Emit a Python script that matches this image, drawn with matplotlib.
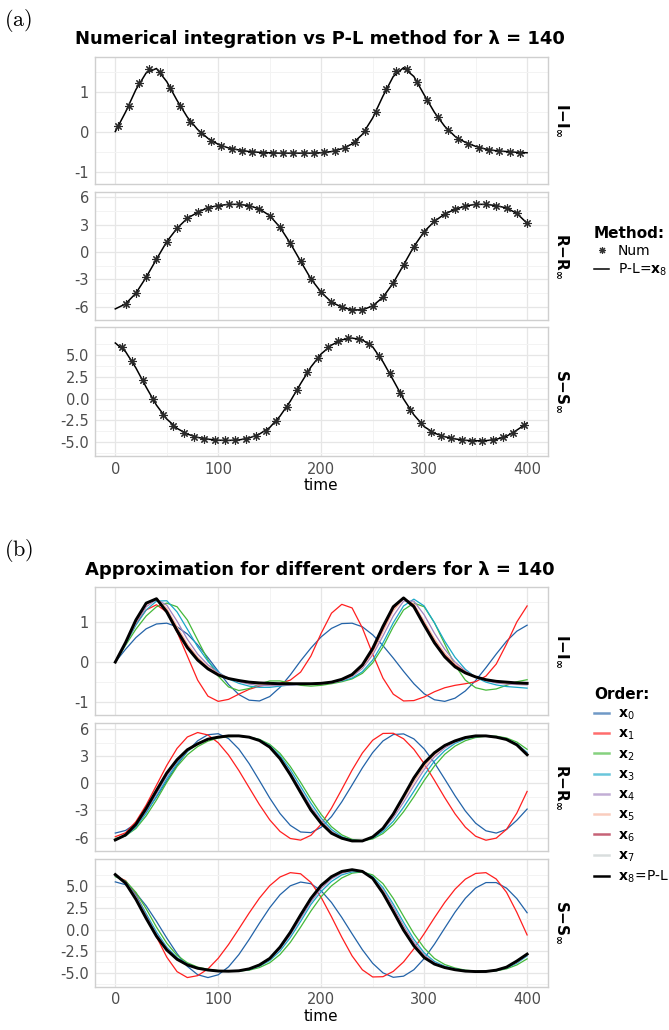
import numpy as np
import matplotlib
matplotlib.use("Agg")
import matplotlib.pyplot as plt
from matplotlib.lines import Line2D

# time grid of the curves and times of the numerical-integration markers
t = np.arange(0, 401, 10)
t_num_I = np.arange(3, 400, 10)
t_num_R = np.arange(10, 401, 10)
t_num_S = np.arange(6.5, 400, 10)

# numerical integration (markers in panel a)
num_I = [0.14, 0.64, 1.22, 1.56, 1.50, 1.10, 0.64, 0.25, -0.04, -0.23,
         -0.36, -0.43, -0.48, -0.51, -0.53, -0.53, -0.54, -0.54, -0.54, -0.53,
         -0.52, -0.48, -0.40, -0.27, 0.02, 0.48, 1.06, 1.52, 1.56, 1.25,
         0.78, 0.36, 0.04, -0.18, -0.31, -0.40, -0.46, -0.49, -0.51, -0.53]
num_R = [-5.71, -4.54, -2.78, -0.80, 1.13, 2.60, 3.70, 4.35, 4.87, 5.09,
         5.23, 5.23, 5.09, 4.72, 3.99, 2.71, 0.95, -1.02, -2.96, -4.43,
         -5.52, -6.07, -6.37, -6.37, -5.93, -4.98, -3.40, -1.43, 0.59, 2.23,
         3.37, 4.17, 4.68, 5.05, 5.23, 5.23, 5.09, 4.83, 4.24, 3.15]
num_S = [5.84, 4.24, 2.14, -0.08, -1.87, -3.13, -3.89, -4.35, -4.58, -4.73,
         -4.77, -4.77, -4.62, -4.27, -3.66, -2.52, -0.99, 0.99, 3.02, 4.62,
         5.84, 6.53, 6.91, 6.83, 6.22, 4.89, 2.90, 0.69, -1.30, -2.82,
         -3.78, -4.24, -4.54, -4.73, -4.81, -4.81, -4.73, -4.43, -3.90, -3.02]

# approximations of order 0..8 (x8 = P-L)
x0_I = [0.0, 0.32, 0.61, 0.83, 0.95, 0.97, 0.88, 0.70, 0.43, 0.11,
        -0.23, -0.56, -0.81, -0.95, -0.97, -0.86, -0.63, -0.32, 0.03, 0.35,
        0.63, 0.84, 0.96, 0.97, 0.88, 0.68, 0.41, 0.10, -0.23, -0.54,
        -0.79, -0.94, -0.98, -0.90, -0.72, -0.46, -0.14, 0.20, 0.52, 0.77, 0.92]
x1_I = [0.0, 0.45, 0.95, 1.30, 1.43, 1.25, 0.75, 0.15, -0.45, -0.85,
        -0.98, -0.93, -0.80, -0.68, -0.60, -0.56, -0.53, -0.45, -0.25, 0.15,
        0.72, 1.22, 1.44, 1.35, 0.85, 0.20, -0.40, -0.80, -0.97, -0.96,
        -0.87, -0.74, -0.64, -0.58, -0.54, -0.49, -0.35, -0.05, 0.45, 1.00, 1.40]
x2_I = [0.0, 0.42, 0.82, 1.15, 1.38, 1.47, 1.38, 1.05, 0.55, 0.05,
        -0.35, -0.62, -0.71, -0.66, -0.55, -0.47, -0.47, -0.52, -0.58, -0.60,
        -0.58, -0.54, -0.49, -0.42, -0.28, -0.02, 0.38, 0.88, 1.30, 1.47,
        1.38, 0.98, 0.45, -0.08, -0.45, -0.64, -0.70, -0.67, -0.58, -0.49, -0.44]
x3_I = [0.0, 0.45, 0.92, 1.30, 1.52, 1.53, 1.25, 0.82, 0.38, 0.02,
        -0.25, -0.42, -0.53, -0.60, -0.63, -0.63, -0.60, -0.57, -0.55, -0.54,
        -0.53, -0.51, -0.47, -0.40, -0.24, 0.05, 0.48, 0.98, 1.40, 1.57,
        1.40, 0.98, 0.52, 0.12, -0.18, -0.38, -0.50, -0.57, -0.61, -0.63, -0.65]
x4_I = [0.0, 0.46, 0.97, 1.38, 1.56, 1.42, 1.02, 0.57, 0.20, -0.07,
        -0.27, -0.40, -0.49, -0.55, -0.58, -0.59, -0.58, -0.57, -0.56, -0.55,
        -0.54, -0.52, -0.46, -0.36, -0.16, 0.18, 0.65, 1.15, 1.52, 1.52,
        1.18, 0.72, 0.32, 0.0, -0.22, -0.37, -0.46, -0.52, -0.55, -0.56, -0.57]
x5_I = [0.0, 0.47, 1.00, 1.43, 1.58, 1.34, 0.88, 0.45, 0.12, -0.12,
        -0.29, -0.40, -0.47, -0.52, -0.55, -0.56, -0.56, -0.56, -0.55, -0.55,
        -0.54, -0.51, -0.45, -0.34, -0.12, 0.24, 0.76, 1.28, 1.58, 1.45,
        1.02, 0.58, 0.22, -0.05, -0.24, -0.37, -0.45, -0.50, -0.53, -0.54, -0.55]
x6_I = [0.0, 0.48, 1.03, 1.46, 1.58, 1.28, 0.82, 0.40, 0.08, -0.15,
        -0.31, -0.41, -0.47, -0.51, -0.53, -0.54, -0.55, -0.55, -0.55, -0.54,
        -0.53, -0.50, -0.44, -0.33, -0.10, 0.29, 0.83, 1.34, 1.60, 1.42,
        0.96, 0.52, 0.17, -0.08, -0.25, -0.37, -0.44, -0.48, -0.51, -0.52, -0.53]
x7_I = [0.0, 0.49, 1.04, 1.47, 1.58, 1.26, 0.79, 0.37, 0.06, -0.16,
        -0.32, -0.41, -0.46, -0.50, -0.52, -0.53, -0.54, -0.54, -0.54, -0.54,
        -0.53, -0.50, -0.43, -0.32, -0.08, 0.32, 0.87, 1.37, 1.60, 1.39,
        0.93, 0.49, 0.14, -0.11, -0.26, -0.37, -0.44, -0.48, -0.50, -0.52, -0.53]
x8_I = [0.0, 0.49, 1.05, 1.47, 1.58, 1.25, 0.78, 0.36, 0.05, -0.17,
        -0.32, -0.41, -0.46, -0.50, -0.52, -0.53, -0.54, -0.54, -0.54, -0.54,
        -0.53, -0.50, -0.43, -0.31, -0.07, 0.34, 0.89, 1.38, 1.60, 1.38,
        0.92, 0.48, 0.13, -0.12, -0.27, -0.37, -0.44, -0.48, -0.50, -0.52, -0.53]

x0_R = [-5.5, -5.21, -4.45, -3.15, -1.51, 0.26, 2.0, 3.53, 4.69, 5.36,
        5.47, 4.93, 3.78, 2.17, 0.29, -1.63, -3.34, -4.65, -5.38, -5.45,
        -4.86, -3.68, -2.05, -0.19, 1.70, 3.39, 4.67, 5.38, 5.45, 4.90,
        3.79, 2.25, 0.46, -1.38, -3.06, -4.41, -5.25, -5.50, -5.10, -4.09, -2.85]
x1_R = [-5.9, -5.47, -4.24, -2.40, -0.22, 1.97, 3.85, 5.11, 5.6, 5.33,
        4.47, 3.12, 1.41, -0.48, -2.36, -4.04, -5.32, -6.10, -6.28, -5.75,
        -4.52, -2.75, -0.67, 1.45, 3.34, 4.75, 5.50, 5.52, 4.91, 3.75,
        2.17, 0.32, -1.59, -3.38, -4.85, -5.85, -6.29, -6.06, -5.09, -3.3, -0.9]
x2_R = [-6.1, -5.8, -5.0, -3.6, -1.85, 0.1, 1.85, 3.15, 4.05, 4.65,
        5.0, 5.15, 5.2, 5.1, 4.85, 4.3, 3.3, 1.85, 0.1, -1.75,
        -3.45, -4.8, -5.7, -6.2, -6.35, -6.15, -5.55, -4.55, -3.15, -1.5,
        0.3, 1.9, 3.2, 4.1, 4.7, 5.05, 5.2, 5.2, 5.0, 4.55, 3.75]
x3_R = [-6.2, -5.8, -4.85, -3.3, -1.45, 0.5, 2.2, 3.5, 4.35, 4.85,
        5.1, 5.2, 5.2, 5.1, 4.8, 4.15, 3.05, 1.5, -0.35, -2.2,
        -3.85, -5.1, -5.9, -6.3, -6.35, -6.05, -5.35, -4.2, -2.65, -0.9,
        0.9, 2.45, 3.6, 4.4, 4.9, 5.15, 5.2, 5.15, 4.9, 4.35, 3.4]
x4_R = [-6.25, -5.75, -4.7, -3.05, -1.15, 0.8, 2.4, 3.6, 4.35, 4.85,
        5.1, 5.2, 5.2, 5.1, 4.75, 4.05, 2.85, 1.2, -0.7, -2.6,
        -4.15, -5.3, -6.0, -6.35, -6.35, -5.95, -5.15, -3.8, -2.1, -0.25,
        1.5, 2.9, 3.9, 4.55, 4.95, 5.2, 5.2, 5.1, 4.85, 4.3, 3.3]
x5_R = [-6.25, -5.72, -4.6, -2.9, -0.95, 1.0, 2.5, 3.65, 4.35, 4.87,
        5.1, 5.2, 5.2, 5.1, 4.73, 4.0, 2.75, 1.05, -0.9, -2.8,
        -4.3, -5.4, -6.05, -6.37, -6.35, -5.93, -5.05, -3.6, -1.75, 0.15,
        1.85, 3.15, 4.05, 4.62, 5.0, 5.2, 5.2, 5.1, 4.84, 4.26, 3.2]
x6_R = [-6.26, -5.71, -4.52, -2.75, -0.8, 1.1, 2.57, 3.68, 4.35, 4.87,
        5.09, 5.2, 5.2, 5.09, 4.72, 3.99, 2.72, 0.98, -0.98, -2.9,
        -4.4, -5.5, -6.07, -6.37, -6.37, -5.93, -5.0, -3.45, -1.5, 0.5,
        2.15, 3.32, 4.14, 4.67, 5.04, 5.2, 5.2, 5.09, 4.83, 4.24, 3.17]
x7_R = [-6.26, -5.71, -4.52, -2.76, -0.78, 1.13, 2.59, 3.69, 4.35, 4.87,
        5.09, 5.22, 5.22, 5.09, 4.72, 3.99, 2.71, 0.96, -1.0, -2.94,
        -4.42, -5.51, -6.07, -6.37, -6.37, -5.93, -4.99, -3.42, -1.46, 0.56,
        2.2, 3.35, 4.16, 4.68, 5.05, 5.22, 5.22, 5.09, 4.83, 4.24, 3.16]
x8_R = [-6.26, -5.71, -4.54, -2.78, -0.80, 1.13, 2.60, 3.70, 4.35, 4.87,
        5.09, 5.23, 5.23, 5.09, 4.72, 3.99, 2.71, 0.95, -1.02, -2.96,
        -4.43, -5.52, -6.07, -6.37, -6.37, -5.93, -4.98, -3.40, -1.43, 0.59,
        2.23, 3.37, 4.17, 4.68, 5.05, 5.23, 5.23, 5.09, 4.83, 4.24, 3.15]

x0_S = [5.5, 5.17, 4.21, 2.75, 0.96, -0.96, -2.75, -4.21, -5.17, -5.5,
        -5.18, -4.27, -2.86, -1.12, 0.75, 2.53, 4.02, 5.05, 5.48, 5.29,
        4.47, 3.13, 1.41, -0.47, -2.30, -3.86, -4.96, -5.47, -5.34, -4.6,
        -3.32, -1.66, 0.19, 2.02, 3.61, 4.80, 5.42, 5.42, 4.78, 3.58, 1.95]
x1_S = [6.2, 5.64, 4.05, 1.76, -0.81, -3.15, -4.82, -5.5, -5.28, -4.51,
        -3.28, -1.70, 0.09, 1.92, 3.63, 5.06, 6.06, 6.56, 6.43, 5.44,
        3.71, 1.49, -0.86, -3.01, -4.61, -5.43, -5.40, -4.79, -3.70, -2.20,
        -0.46, 1.38, 3.14, 4.66, 5.81, 6.47, 6.56, 5.83, 4.30, 2.0, -0.6]
x2_S = [6.1, 5.6, 4.3, 2.4, 0.3, -1.55, -2.95, -3.8, -4.3, -4.55,
        -4.7, -4.75, -4.75, -4.65, -4.35, -3.8, -2.85, -1.45, 0.3, 2.15,
        3.8, 5.05, 5.95, 6.5, 6.65, 6.3, 5.3, 3.6, 1.55, -0.45,
        -2.1, -3.3, -4.0, -4.4, -4.65, -4.75, -4.78, -4.72, -4.5, -4.05, -3.35]
x3_S = [6.2, 5.5, 3.95, 1.85, -0.25, -2.0, -3.2, -3.95, -4.4, -4.62,
        -4.75, -4.78, -4.75, -4.58, -4.2, -3.55, -2.45, -0.9, 0.95, 2.9,
        4.4, 5.55, 6.3, 6.65, 6.7, 6.1, 4.85, 2.95, 0.85, -1.1,
        -2.65, -3.65, -4.2, -4.5, -4.7, -4.8, -4.8, -4.7, -4.4, -3.85, -3.0]
x4_S = [6.25, 5.45, 3.8, 1.6, -0.5, -2.15, -3.3, -4.0, -4.43, -4.64,
        -4.75, -4.78, -4.73, -4.55, -4.13, -3.42, -2.2, -0.6, 1.3, 3.2,
        4.75, 5.85, 6.5, 6.8, 6.72, 5.95, 4.6, 2.6, 0.45, -1.45,
        -2.9, -3.8, -4.28, -4.55, -4.73, -4.8, -4.8, -4.68, -4.35, -3.75, -2.9]
x5_S = [6.3, 5.42, 3.7, 1.45, -0.65, -2.3, -3.4, -4.03, -4.44, -4.65,
        -4.75, -4.78, -4.72, -4.52, -4.1, -3.33, -2.05, -0.4, 1.55, 3.5,
        5.0, 6.0, 6.62, 6.85, 6.7, 5.87, 4.45, 2.35, 0.2, -1.65,
        -3.05, -3.88, -4.32, -4.58, -4.74, -4.81, -4.8, -4.66, -4.32, -3.7, -2.85]
x6_S = [6.33, 5.38, 3.55, 1.35, -0.7, -2.3, -3.38, -4.04, -4.43, -4.63,
        -4.75, -4.77, -4.72, -4.5, -4.06, -3.3, -2.02, -0.33, 1.65, 3.55,
        5.05, 6.07, 6.68, 6.89, 6.71, 5.9, 4.25, 2.2, 0.05, -1.77,
        -3.15, -3.93, -4.34, -4.6, -4.76, -4.81, -4.8, -4.65, -4.3, -3.62, -2.82]
x7_S = [6.34, 5.36, 3.52, 1.32, -0.73, -2.32, -3.39, -4.05, -4.43, -4.63,
        -4.75, -4.77, -4.72, -4.5, -4.05, -3.3, -2.01, -0.31, 1.68, 3.58,
        5.08, 6.09, 6.7, 6.9, 6.7, 5.9, 4.22, 2.14, -0.02, -1.82,
        -3.18, -3.94, -4.35, -4.6, -4.76, -4.81, -4.8, -4.65, -4.3, -3.61, -2.81]
x8_S = [6.34, 5.35, 3.5, 1.3, -0.75, -2.33, -3.4, -4.05, -4.43, -4.63,
        -4.75, -4.77, -4.72, -4.5, -4.05, -3.3, -2.0, -0.3, 1.7, 3.6,
        5.1, 6.1, 6.7, 6.9, 6.7, 5.9, 4.2, 2.1, -0.05, -1.85,
        -3.2, -3.95, -4.35, -4.6, -4.76, -4.81, -4.8, -4.65, -4.3, -3.6, -2.8]

orders_I = [x0_I, x1_I, x2_I, x3_I, x4_I, x5_I, x6_I, x7_I, x8_I]
orders_R = [x0_R, x1_R, x2_R, x3_R, x4_R, x5_R, x6_R, x7_R, x8_R]
orders_S = [x0_S, x1_S, x2_S, x3_S, x4_S, x5_S, x6_S, x7_S, x8_S]
order_colors = ['#2363a8', '#ff1f1f', '#45b93a', '#1aa8c8', '#a283bf',
                '#f7b39c', '#a80f2e', '#c5cccc', 'black']
order_labels = [r'$\mathbf{x}_%d$' % i for i in range(8)] + [r'$\mathbf{x}_8\!=\!$P-L']

strip_labels = [r'$\mathbf{I{-}I_{\infty}}$', r'$\mathbf{R{-}R_{\infty}}$',
                r'$\mathbf{S{-}S_{\infty}}$']
y_ticks = [[-1, 0, 1], [-6, -3, 0, 3, 6], [-5, -2.5, 0, 2.5, 5]]
y_ticklabels = [['-1', '0', '1'], ['-6', '-3', '0', '3', '6'],
                ['-5.0', '-2.5', '0.0', '2.5', '5.0']]
y_minor = [[-0.5, 0.5, 1.5], [-4.5, -1.5, 1.5, 4.5], [-6.25, -3.75, -1.25, 1.25, 3.75, 6.25]]
y_lims = [(-1.32, 1.88), (-7.48, 6.62), (-6.55, 8.13)]

W, H = 669, 1030
fig = plt.figure(figsize=(W / 100, H / 100), dpi=100)

# panel rectangles in pixels (top, bottom)
left = 94.7 / W
width = 453 / W
rows_a = [(56.5, 184.3), (191.7, 320.0), (327.3, 456.0)]
rows_b = [(586.7, 715.0), (723.3, 851.0), (859.0, 986.7)]


def make_axes(rows):
    axes = []
    for k, (top, bot) in enumerate(rows):
        ax = fig.add_axes([left, 1 - bot / H, width, (bot - top) / H])
        ax.set_xlim(-20, 420)
        ax.set_ylim(*y_lims[k])
        ax.set_xticks([0, 100, 200, 300, 400])
        ax.set_xticks([50, 150, 250, 350], minor=True)
        ax.set_yticks(y_ticks[k])
        ax.set_yticklabels(y_ticklabels[k])
        ax.set_yticks(y_minor[k], minor=True)
        ax.grid(True, which='major', color='#e6e6e6', lw=0.9)
        ax.grid(True, which='minor', color='#f3f3f3', lw=0.7)
        ax.set_axisbelow(True)
        for s in ax.spines.values():
            s.set_color('#cfcfcf')
            s.set_linewidth(1.0)
        ax.tick_params(which='both', length=0, pad=4, labelsize=10.5, labelcolor='#4d4d4d')
        if k < 2:
            ax.tick_params(axis='x', labelbottom=False)
        else:
            ax.set_xlabel('time', fontsize=11, labelpad=1)
        yc = 1 - (top + bot) / 2 / H
        fig.text(562 / W, yc, strip_labels[k], rotation=-90, fontsize=11,
                 ha='center', va='center')
        axes.append(ax)
    return axes


# panel (a): numerical integration vs P-L
axes_a = make_axes(rows_a)
star = (8, 2, 0)
for ax, tn, vn, line in zip(axes_a, [t_num_I, t_num_R, t_num_S], [num_I, num_R, num_S],
                            [x8_I, x8_R, x8_S]):
    ax.plot(t, line, color='black', lw=1.1, zorder=3)
    ax.plot(tn, vn, ls='none', marker=star, ms=6, mew=0.8, color='#2a2a2a', zorder=4)

# panel (b): approximations of different orders
axes_b = make_axes(rows_b)
for ax, data in zip(axes_b, [orders_I, orders_R, orders_S]):
    for i, (vals, c) in enumerate(zip(data, order_colors)):
        ax.plot(t, vals, color=c, lw=2.1 if i == 8 else 0.9, zorder=3 + i)

# titles and panel letters
fig.text(320 / W, 1 - 39.3 / H, 'Numerical integration vs P-L method for λ = 140',
         fontsize=13, fontweight='bold', ha='center', va='center')
fig.text(320 / W, 1 - 570 / H, 'Approximation for different orders for λ = 140',
         fontsize=13, fontweight='bold', ha='center', va='center')
fig.text(4 / W, 1 - 20 / H, r'$\mathrm{(a)}$', math_fontfamily='cm', fontsize=16,
         ha='left', va='center')
fig.text(4 / W, 1 - 550 / H, r'$\mathrm{(b)}$', math_fontfamily='cm', fontsize=16,
         ha='left', va='center')

# legends
h_a = [Line2D([], [], ls='none', marker=star, ms=5, mew=0.8, color='#333333'),
       Line2D([], [], color='black', lw=1.1)]
fig.legend(h_a, ['Num', r'P-L=$\mathbf{x}_8$'], loc='center left',
           bbox_to_anchor=(594 / W, 1 - 252 / H), frameon=False, fontsize=10,
           title='Method:', title_fontproperties={'weight': 'bold', 'size': 11},
           alignment='left', handlelength=1.1, handletextpad=0.6,
           labelspacing=0.25, borderpad=0, borderaxespad=0)

h_b = [Line2D([], [], color=c, lw=1.8, alpha=0.65 if i < 8 else 1.0)
       for i, c in enumerate(order_colors)]
fig.legend(h_b, order_labels, loc='center left',
           bbox_to_anchor=(594 / W, 1 - 786 / H), frameon=False, fontsize=10,
           title='Order:', title_fontproperties={'weight': 'bold', 'size': 11},
           alignment='left', handlelength=1.1, handletextpad=0.6,
           labelspacing=0.35, borderpad=0, borderaxespad=0)

fig.savefig('out.png', dpi=100)
